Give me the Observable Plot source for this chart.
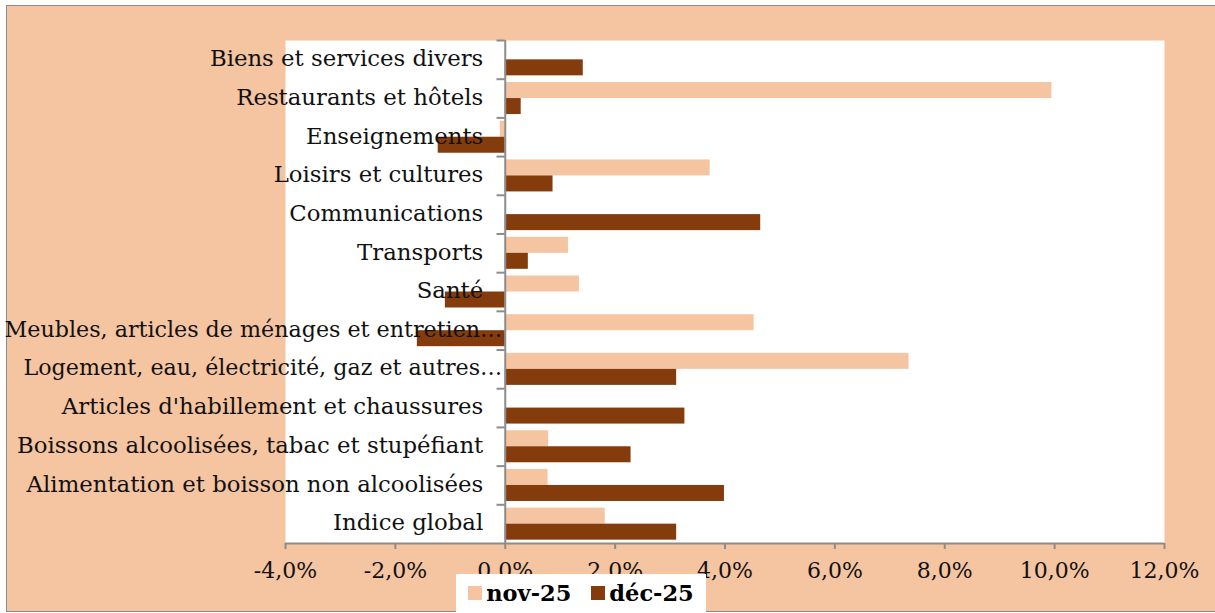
<!DOCTYPE html>
<html>
<head>
<meta charset="utf-8">
<script src="https://cdn.jsdelivr.net/npm/d3@7"></script>
<script src="https://cdn.jsdelivr.net/npm/@observablehq/plot@0.6"></script>
<style>
  html, body { margin: 0; padding: 0; background: #ffffff; }
  #wrap { position: relative; width: 1215px; height: 613px; overflow: hidden; font-family: "DejaVu Serif", serif; }
  #bg { position: absolute; left: 6px; top: 5px; width: 1215px; height: 605px; background: #F5C4A1; border: 1.5px solid #8c8c8c; }
  #chart { position: absolute; left: 0; top: 0; }
  #legend { position: absolute; left: 456px; top: 574px; width: 250px; height: 45px; background: #ffffff; display: flex; align-items: center; justify-content: center; gap: 20px; font-family: "DejaVu Serif", serif; font-weight: bold; font-size: 22.5px; color: #000; padding-bottom: 8px; box-sizing: border-box; }
  .item { display: flex; align-items: center; gap: 4px; }
  .sw { width: 14px; height: 14px; display: inline-block; }
</style>
</head>
<body>
<div id="wrap">
  <div id="bg"></div>
  <div id="chart"></div>
  <div id="legend"></div>
</div>
<script>
// Categories, top to bottom
const categories = [
  "Biens et services divers",
  "Restaurants et hôtels",
  "Enseignements",
  "Loisirs et cultures",
  "Communications",
  "Transports",
  "Santé",
  "Meubles, articles de ménages et entretien…",
  "Logement, eau, électricité, gaz et autres…",
  "Articles d'habillement et chaussures",
  "Boissons alcoolisées, tabac et stupéfiant",
  "Alimentation et boisson non alcoolisées",
  "Indice global"
];
const seriesNames = ["nov-25", "déc-25"];
// values in %
const nov25 = [0.0, 9.95, -0.09, 3.73, 0.0, 1.15, 1.35, 4.53, 7.35, 0.0, 0.79, 0.78, 1.82];
const dec25 = [1.42, 0.29, -1.22, 0.87, 4.65, 0.42, -1.09, -1.6, 3.12, 3.27, 2.29, 3.99, 3.12];
const xTicks = [-4, -2, 0, 2, 4, 6, 8, 10, 12];
const colors = ["#F5C4A1", "#843C0C"];

const novData = categories.map((c, i) => ({cat: c, v: nov25[i]}));
const decData = categories.map((c, i) => ({cat: c, v: dec25[i]}));

const W = 1215, H = 613;
const mT = 40, mB = 70, mL = 285, mR = 51;
const band = (H - mT - mB) / categories.length;
const barH = 16;
const pad = (band - 2 * barH) / 2;

const fmt = d => d.toFixed(1).replace(".", ",") + "%";
const isTrunc = d => d.endsWith("…");

const plot = Plot.plot({
  width: W,
  height: H,
  marginTop: mT,
  marginBottom: mB,
  marginLeft: mL,
  marginRight: mR,
  style: {background: "transparent", fontFamily: "DejaVu Serif, serif", color: "#111", overflow: "visible"},
  x: {domain: [-4, 12], label: null},
  y: {domain: categories, padding: 0, round: false, axis: null},
  marks: [
    Plot.frame({fill: "white", stroke: null}),
    Plot.barX(novData, {x: "v", y: "cat", fill: colors[0], insetTop: pad, insetBottom: band - pad - barH}),
    Plot.barX(decData, {x: "v", y: "cat", fill: colors[1], insetTop: pad + barH, insetBottom: pad}),
    Plot.ruleX([0], {stroke: "#8c8c8c", strokeWidth: 2}),
    Plot.ruleY(categories, {y: d => d, x1: -0.15, x2: 0, dy: -band / 2, stroke: "#8c8c8c", strokeWidth: 2}),
    Plot.text(categories.filter(d => !isTrunc(d)), {
      x: () => 0, y: d => d,
      dx: -22,
      textAnchor: "end", fontSize: 22.8, fill: "#111", dy: -1
    }),
    Plot.text(categories.filter(isTrunc), {
      x: () => 0, y: d => d,
      dx: -3,
      textAnchor: "end", fontSize: 22.2, fill: "#111", dy: -1
    }),
    Plot.axisX(xTicks, {anchor: "bottom", label: null, tickSize: 6, tickPadding: 13, tickFormat: fmt, fontSize: 22, stroke: "#8c8c8c", strokeWidth: 2, fill: "#111"}),
    Plot.ruleY([categories[categories.length - 1]], {dy: band / 2, stroke: "#8c8c8c", strokeWidth: 2})
  ]
});
document.getElementById("chart").appendChild(plot);

const legend = document.getElementById("legend");
seriesNames.forEach((n, i) => {
  const it = document.createElement("span");
  it.className = "item";
  const sw = document.createElement("span");
  sw.className = "sw";
  sw.style.background = colors[i];
  it.appendChild(sw);
  const t = document.createElement("span");
  t.textContent = n;
  it.appendChild(t);
  legend.appendChild(it);
});
</script>
</body>
</html>
